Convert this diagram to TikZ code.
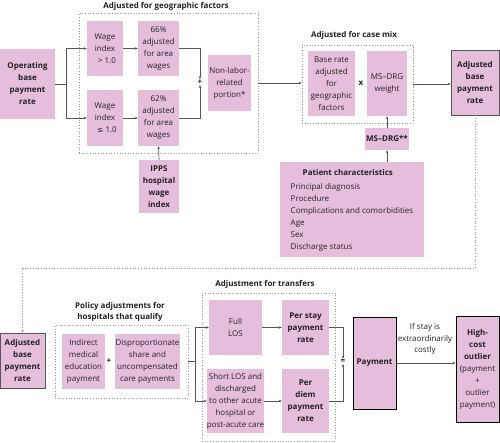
\documentclass[tikz,border=0pt]{standalone}
\usepackage{fontspec}
\setmainfont{Open Sans}
\newfontfamily\symfont{DejaVu Sans}
\usetikzlibrary{arrows.meta}
\definecolor{boxfill}{RGB}{229,190,220}
\definecolor{txt}{RGB}{34,34,34}
\definecolor{ln}{RGB}{85,85,85}
\definecolor{grpc}{RGB}{150,150,150}
\tikzset{
  bx/.style={fill=boxfill, draw=none, align=center, inner sep=0pt, text=txt,
    font=\fontsize{8}{12}\selectfont},
  bbx/.style={bx, font=\fontsize{8}{12}\selectfont\bfseries},
  sz/.style 2 args={minimum width=#1pt, minimum height=#2pt},
  grayborder/.style={draw=ln, line width=0.9pt},
  blackborder/.style={draw=black, line width=1pt},
  grp/.style={draw=grpc, dotted, line width=0.7pt, inner sep=0pt},
  ttl/.style={text=txt, align=center, inner sep=0pt, font=\fontsize{8}{10.5}\selectfont\bfseries},
  op/.style={text=txt, inner sep=0.5pt, font=\fontsize{8}{10}\selectfont\bfseries},
  conn/.style={draw=ln, line width=0.7pt, -{Stealth[length=3pt,width=2.6pt]}},
  dconn/.style={draw=grpc, dotted, line width=0.7pt, -{Stealth[length=3pt,width=2.6pt]}},
  lbl/.style={text=txt, align=center, inner sep=0pt, font=\fontsize{8}{11.5}\selectfont}
}
\begin{document}
\begin{tikzpicture}[x=1pt,y=-1pt]
\useasboundingbox (0,0) rectangle (500,443);
% group boxes
\node[grp, sz={179}{140}] (geo) at (168.5,83) {};
\node[grp, sz={111}{78}] (casemix) at (357.5,84) {};
\node[grp, sz={133}{73}] (policy) at (121.5,361.5) {};
\node[grp, sz={133}{148}] (transfers) at (268.5,367) {};
% titles
\node[ttl] (tgeo) at (166,6) {Adjusted for geographic factors};
\node[ttl] (tcase) at (354,35) {Adjusted for case mix};
\node[ttl] (tpol) at (120,312) {Policy adjustments for\\hospitals that qualify};
\node[ttl] (ttr) at (265,284) {Adjustment for transfers};
% boxes top
\node[bbx, sz={55}{70}] (opb) at (27.5,84) {Operating\\base\\payment\\rate};
\node[bx, sz={36}{55}] (w1) at (105,48.5) {Wage\\index\\\hspace*{4pt}> 1.0};
\node[bx, sz={41}{55}] (a66) at (158.5,48.5) {66\%\\adjusted\\for area\\wages};
\node[bx, sz={36}{56}] (w2) at (105,118) {Wage\\index\\\hspace*{4pt}{\symfont\fontsize{7.5}{12}\selectfont ≤} 1.0};
\node[bx, sz={41}{56}] (a62) at (158.5,118) {62\%\\adjusted\\for area\\wages};
\node[bx, sz={43}{56}] (nonlab) at (229.5,83) {Non-labor-\\related\\portion*};
\node[bbx, sz={40}{53}] (ipps) at (159,186.5) {IPPS\\hospital\\wage\\index};
\node[op] (plus1) at (200,82) {+};
\node[bx, sz={47}{65}] (base) at (331.5,83.5) {Base rate\\adjusted\\for\\geographic\\factors};
\node[op] (times) at (361,83) {x};
\node[bx, sz={40}{65}] (msw) at (387,83.5) {MS–DRG\\weight};
\node[bbx, grayborder, sz={48}{65}] (adj1) at (475,82.5) {Adjusted\\base\\payment\\rate};
\node[bbx, sz={44}{22}] (msdrg) at (387,139) {MS–DRG**};
\node[bx, sz={144}{95}, align=left] (patient) at (352,210) {\hspace*{12pt}\textbf{Patient characteristics}\\[2pt]Principal diagnosis\\Procedure\\Complications and comorbidities\\Age\\Sex\\Discharge status};
% boxes bottom
\node[bbx, grayborder, sz={45}{55}] (adj2) at (22.5,360.5) {Adjusted\\base\\payment\\rate};
\node[bx, sz={43}{55}] (ime) at (83.5,361.5) {Indirect\\medical\\education\\payment};
\node[op] (plus2) at (109,361) {+};
\node[bx, sz={65}{55}] (dsh) at (147.5,361.5) {Disproportionate\\share and\\uncompensated\\care payments};
\node[bx, sz={53}{55}] (full) at (235.5,327.5) {Full\\LOS};
\node[bx, sz={53}{64}] (short) at (235.5,401) {Short LOS and\\discharged\\to other acute\\hospital or\\post-acute care};
\node[bbx, sz={47}{55}] (perstay) at (305.5,327.5) {Per stay\\payment\\rate};
\node[bbx, sz={47}{64}] (perdiem) at (305.5,401) {Per\\diem\\payment\\rate};
\node[op] (eq) at (343,361.5) {=};
\node[bbx, blackborder, sz={43}{92}] (payment) at (374.5,363) {Payment};
\node[bx, blackborder, sz={43}{106}] (hco) at (477.5,369) {\textbf{High-}\\\textbf{cost}\\\textbf{outlier}\\(payment\\+\\outlier\\payment)};
\node[lbl] (cond) at (425,339) {If stay is\\extraordinarily\\costly};
% connectors
\coordinate (split1) at (66,84);
\coordinate (split2) at (195,361.5);
\coordinate (dotrow) at (0,268);
\draw[conn] (opb.east) -- (split1) |- (w1.west);
\draw[conn] (opb.east) -- (split1) |- (w2.west);
\draw[conn] (w1) -- (a66);
\draw[conn] (w2) -- (a62);
\draw[conn] (a66.east) -| (plus1.north);
\draw[conn] (a62.east) -| (plus1.south);
\draw[conn] (ipps.north) -- (a62.south);
\draw[conn] (geo.east) -- (geo.east -| casemix.west);
\draw[conn] (casemix.east) -- (casemix.east -| adj1.west);
\draw[conn] (msdrg.north) -- (msw.south);
\draw[conn] (msdrg.south |- patient.north) -- (msdrg.south);
\draw[dconn] (adj1.south) -- (adj1.south |- dotrow) -| (adj2.north);
\draw[conn] (policy.east) -- (split2) |- (full.west);
\draw[conn] (policy.east) -- (split2) |- (short.west);
\draw[conn] (full) -- (perstay);
\draw[conn] (short) -- (perdiem);
\draw[conn] (perstay.east) -| (eq.north);
\draw[conn] (perdiem.east) -| (eq.south);
\draw[conn] (payment.east) -- (payment.east -| hco.west);
\end{tikzpicture}
\end{document}
